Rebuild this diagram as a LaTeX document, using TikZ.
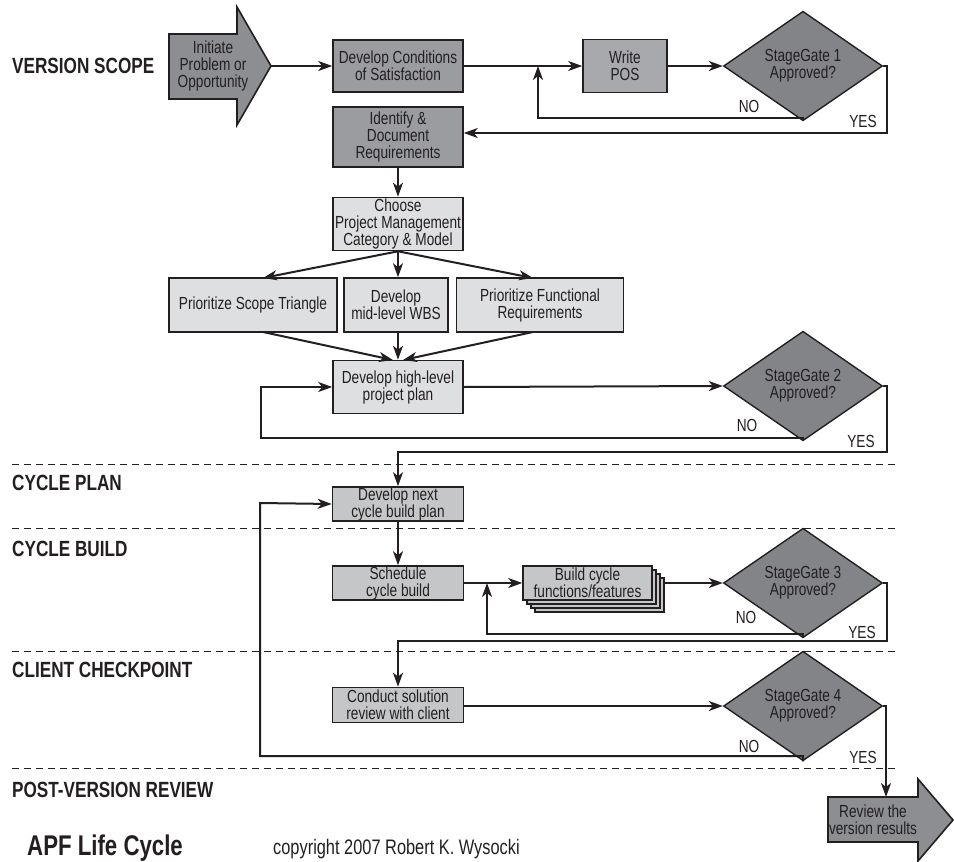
\documentclass[tikz,border=0pt]{standalone}
\usepackage{fontspec}
\setmainfont{Liberation Sans}[FakeStretch=0.78]
\usetikzlibrary{shapes.geometric,arrows.meta}
\definecolor{ink}{HTML}{231F20}
\definecolor{dkfill}{HTML}{8D8E92}
\definecolor{mdfill}{HTML}{9B9CA0}
\definecolor{posfill}{HTML}{A8A9AC}
\definecolor{gatefill}{HTML}{838488}
\definecolor{ltfill}{HTML}{DEDFE0}
\definecolor{cyfill}{HTML}{C5C6C8}
\newcommand\btxt{\fontsize{17.5}{17}\selectfont}
\newcommand\hdtxt{\fontsize{22}{22}\selectfont\bfseries}
\begin{document}
\begin{tikzpicture}[x=1pt,y=-1pt,
  box/.style={draw=ink,line width=1.6pt,inner sep=0pt,align=center,font=\btxt,text=ink},
  gate/.style={diamond,draw=ink,line width=1.4pt,fill=gatefill,inner sep=0pt,minimum width=159pt,minimum height=99pt,align=center,font=\btxt,text=ink},
  conn/.style={draw=ink,line width=2pt,-{Stealth[length=14pt,width=10pt,inset=4pt]}},
  sect/.style={anchor=west,font=\hdtxt,text=ink,inner sep=0pt},
  lbl/.style={font=\btxt,text=ink,inner sep=0pt},
  sep/.style={draw=ink,line width=1pt,dash pattern=on 7pt off 5pt}
]
\useasboundingbox (0,0) rectangle (954,862);
\fill[white] (0,0) rectangle (954,862);

% section separators
\foreach \yy in {464,528,651,768} \draw[sep] (12,\yy) -- (898,\yy);

% section labels
\node[sect] (sVS) at (12,66) {VERSION SCOPE};
\node[sect] (sCP) at (12,483) {CYCLE PLAN};
\node[sect] (sCB) at (12,549) {CYCLE BUILD};
\node[sect] (sCC) at (12,670) {CLIENT CHECKPOINT};
\node[sect] (sPV) at (12,790) {POST-VERSION REVIEW};

% start arrow
\draw[draw=ink,line width=1.6pt,fill=dkfill] (169,34)--(237,34)--(237,7)--(271,66)--(237,125)--(237,99)--(169,99)--cycle;
\node[lbl,align=center] (init) at (213,66) {Initiate\\Problem or\\Opportunity};
\coordinate (initTip) at (271,66);

% version scope boxes
\node[box,fill=mdfill,minimum width=130pt,minimum height=52pt] (dcs) at (398,66) {Develop Conditions\\of Satisfaction};
\node[box,fill=posfill,minimum width=84pt,minimum height=53pt] (pos) at (625,66) {Write\\POS};
\node[gate] (g1) at (803,66) {StageGate 1\\Approved?};
\node[box,fill=mdfill,minimum width=130pt,minimum height=60pt] (idr) at (398,137) {Identify \&\\Document\\Requirements};
\node[box,fill=ltfill,minimum width=130pt,minimum height=53pt] (cpm) at (398,224) {Choose\\Project Management\\Category \& Model};
\node[box,fill=ltfill,minimum width=168pt,minimum height=54pt] (pst) at (253,305) {Prioritize Scope Triangle};
\node[box,fill=ltfill,minimum width=104pt,minimum height=54pt] (wbs) at (396,305) {Develop\\mid-level WBS};
\node[box,fill=ltfill,minimum width=167pt,minimum height=54pt] (pfr) at (540,305) {Prioritize Functional\\Requirements};
\node[box,fill=ltfill,minimum width=130pt,minimum height=53pt] (hlp) at (398,387) {Develop high-level\\project plan};
\node[gate] (g2) at (803,386) {StageGate 2\\Approved?};

% cycle boxes
\node[box,fill=cyfill,minimum width=131pt,minimum height=34pt] (dnc) at (398,504) {Develop next\\cycle build plan};
\node[box,fill=cyfill,minimum width=131pt,minimum height=34pt] (scb) at (398,583) {Schedule\\cycle build};
\foreach \d in {12,8,4}
  \draw[draw=ink,line width=1.2pt,fill=cyfill] (523+\d,566+\d) rectangle (652+\d,600+\d);
\node[box,fill=cyfill,minimum width=129pt,minimum height=34pt] (bcf) at (587.5,583) {Build cycle\\functions/features};
\coordinate (bcfOut) at (664,583);
\node[gate] (g3) at (803,583) {StageGate 3\\Approved?};
\node[box,fill=cyfill,minimum width=131pt,minimum height=35pt] (csr) at (398,705) {Conduct solution\\review with client};
\node[gate] (g4) at (803,706) {StageGate 4\\Approved?};

% end arrow
\draw[draw=ink,line width=1.6pt,fill=dkfill] (828,797)--(918,797)--(918,779)--(953,820)--(918,861)--(918,842)--(828,842)--cycle;
\node[lbl,align=center] (rev) at (873,820) {Review the\\version results};
\coordinate (revTop) at (886,797);

% connectors: version scope
\draw[conn] (initTip) -- (dcs.west);
\draw[conn] (dcs.east) -- (pos.west);
\draw[conn] (pos.east) -- (g1.west);
\draw[conn] (g1.south) -- (803,118) -- (538,118) -- (538,66);
\draw[conn] (g1.east) -- (887,66) -- (887,133) -- (idr.east |- 0,133);
\draw[conn] (idr.south) -- (cpm.north);
\draw[conn] (cpm.south) -- (263,278);
\draw[conn] (cpm.south) -- (wbs.north -| cpm.south);
\draw[conn] (cpm.south) -- (533,278);
\draw[conn] (263,332) -- (393,360);
\draw[conn] (wbs.south -| hlp.north) -- (hlp.north);
\draw[conn] (533,332) -- (403,360);
\draw[conn] (hlp.east) -- (g2.west);
\draw[conn] (g2.south) -- (803,438) -- (261,438) -- (261,387) -- (hlp.west);
\draw[conn] (g2.east) -- (887,386) -- (887,452) -- (398,452) -- (dnc.north);

% connectors: cycles
\draw[conn] (dnc.south) -- (scb.north);
\draw[conn] (scb.east) -- (bcf.west);
\draw[conn] (bcfOut) -- (g3.west);
\draw[conn] (g3.south) -- (803,634) -- (487,634) -- (487,583);
\draw[conn] (g3.east) -- (887,583) -- (887,641) -- (398,641) -- (csr.north);
\draw[conn] (csr.east |- g4.west) -- (g4.west);
\draw[conn] (g4.south) -- (803,756) -- (260,756) -- (260,503) -- (dnc.west);
\draw[conn] (g4.east) -- (886,706) -- (revTop);

% NO / YES labels
\node[lbl] (no1) at (749,106) {NO};
\node[lbl] (yes1) at (863,121) {YES};
\node[lbl] (no2) at (747,425) {NO};
\node[lbl] (yes2) at (861,441) {YES};
\node[lbl] (no3) at (746,617) {NO};
\node[lbl] (yes3) at (862,632) {YES};
\node[lbl] (no4) at (749,746) {NO};
\node[lbl] (yes4) at (863,757) {YES};

% footer
\node[anchor=west,inner sep=0pt,font=\fontsize{28.5}{30}\selectfont\bfseries,text=ink] (title) at (27,848) {APF Life Cycle};
\node[anchor=west,inner sep=0pt,font=\fontsize{21}{22}\selectfont,text=ink] (copy) at (273,849) {copyright 2007 Robert K. Wysocki};
\end{tikzpicture}
\end{document}
